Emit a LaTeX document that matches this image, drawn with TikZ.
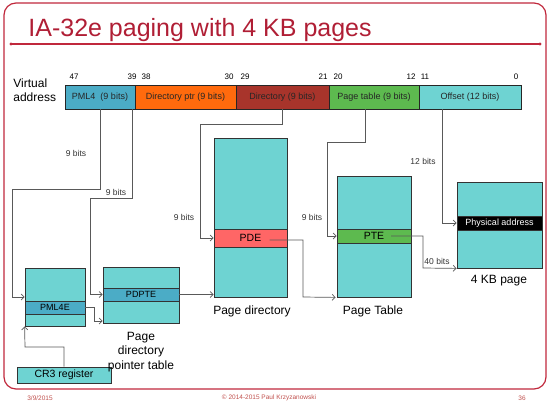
\documentclass[tikz,border=0pt]{standalone}
\usepackage{fontspec}
\setmainfont{Liberation Sans}
\usepackage{xcolor}
\definecolor{slidered}{HTML}{C0283C}
\definecolor{titlered}{HTML}{B01E35}
\definecolor{tblcyan}{HTML}{6ED3D2}
\definecolor{pmlblue}{HTML}{4BACC6}
\definecolor{ptrorange}{HTML}{FF6A0D}
\definecolor{dirred}{HTML}{A8342B}
\definecolor{ptgreen}{HTML}{5DBA4F}
\definecolor{pdepink}{HTML}{FF6666}
\definecolor{footred}{HTML}{C0504D}
\usetikzlibrary{arrows.meta}

\begin{document}
\begin{tikzpicture}[x=1pt,y=-1pt,>={Straight Barb[length=3pt,width=6pt]},line width=0.8pt]
              \tikzstyle{seg}=[draw=black!85,inner sep=0pt,minimum height=24pt,text=black!85,font=\fontsize{9}{10}\selectfont]
              \tikzstyle{tbl}=[draw=black!80,fill=tblcyan,inner sep=0pt]
              \tikzstyle{ent}=[draw=black!80,inner sep=0pt]
              \tikzstyle{lnk}=[->,draw=black!65,line width=0.7pt]
              \tikzstyle{bits}=[inner sep=0pt,text=black!80,font=\fontsize{8.5}{9}\selectfont]
              \tikzstyle{num}=[inner sep=0pt,font=\fontsize{8}{9}\selectfont]
              \tikzstyle{capt}=[inner sep=0pt,align=center,font=\fontsize{12}{14.5}\selectfont]
              \tikzstyle{foot}=[inner sep=0pt,text=footred,font=\fontsize{6.5}{7}\selectfont]

              \useasboundingbox (0,0) rectangle (548,405);
              \draw[slidered,line width=1.2pt,rounded corners=12pt] (4,3) rectangle (546,389);
              \draw[slidered,line width=1.2pt] (11,44) -- (540,44);
              \fill[slidered] (11,44) circle (1.7pt) (540,44) circle (1.7pt);
              \node[anchor=base west,inner sep=0pt,text=titlered,font=\fontsize{25}{28}\selectfont] (title) at (28,36) {IA-32e paging with 4 KB pages};

              \node[anchor=west,inner sep=0pt,align=left,font=\fontsize{12}{14.5}\selectfont] (va) at (13,90) {Virtual\\address};
              \node[seg,fill=pmlblue,minimum width=70pt]   (vpml4)   at (100,97)   {PML4 \ (9 bits)};
              \node[seg,fill=ptrorange,minimum width=101pt] (vdirptr) at (185.5,97) {Directory ptr (9 bits)};
              \node[seg,fill=dirred,minimum width=93pt]    (vdir)    at (282.5,97) {Directory (9 bits)};
              \node[seg,fill=ptgreen,minimum width=90pt]   (vtable)  at (374,97)   {Page table (9 bits)};
              \node[seg,fill=tblcyan,minimum width=102pt]  (voffset) at (470,97)   {Offset (12 bits)};

              \node[num] (b47) at (74,77)  {47};
              \node[num] (b39) at (132,77) {39};
              \node[num] (b38) at (146,77) {38};
              \node[num] (b30) at (229,77) {30};
              \node[num] (b29) at (245,77) {29};
              \node[num] (b21) at (323,77) {21};
              \node[num] (b20) at (338,77) {20};
              \node[num] (b12) at (411,77) {12};
              \node[num] (b11) at (425,77) {11};
              \node[num] (b0)  at (516,77) {0};

              \node[tbl,minimum width=60pt,minimum height=58pt]  (pml4t) at (55,297)    {};
              \node[ent,fill=pmlblue,minimum width=60pt,minimum height=13pt,font=\fontsize{9}{10}\selectfont] (pml4e) at (55,307.5) {PML4E};
              \node[tbl,minimum width=76pt,minimum height=56pt]  (pdpt)  at (141,295)   {};
              \node[ent,fill=pmlblue,minimum width=76pt,minimum height=13pt,font=\fontsize{9}{10}\selectfont] (pdpte) at (141,294.5) {PDPTE};
              \node[tbl,minimum width=73pt,minimum height=159pt] (pdir)  at (250.5,217.5) {};
              \node[ent,fill=pdepink,minimum width=73pt,minimum height=18pt,font=\fontsize{10.5}{11}\selectfont] (pde) at (250.5,238) {PDE};
              \node[tbl,minimum width=74pt,minimum height=121pt] (ptbl)  at (374,236.5) {};
              \node[ent,fill=ptgreen,minimum width=74pt,minimum height=14pt,font=\fontsize{10.5}{11}\selectfont] (pte) at (374,236) {PTE};
              \node[tbl,minimum width=85pt,minimum height=86pt]  (page)  at (499.5,225) {};
              \node[ent,fill=black,text=white,minimum width=85pt,minimum height=14pt,font=\fontsize{9}{10}\selectfont] (phys) at (499.5,223) {Physical address};
              \node[tbl,minimum width=94pt,minimum height=16pt,font=\fontsize{10.5}{11}\selectfont] (cr3) at (64,375) {CR3 register};

              \node[capt] (cpdpt) at (141,352) {Page\\directory\\pointer table};
              \node[capt] (cpdir) at (252,311) {Page directory};
              \node[capt] (cptbl) at (373,311) {Page Table};
              \node[capt] (cpage) at (499,281) {4 KB page};

              \draw[lnk] (vpml4.south) |- (12,189) |- (pml4t.west);
              \draw[lnk] ([xshift=-2pt]vdirptr.south west) |- (90,198) |- (pdpte.west);
              \draw[lnk] (vdir.south) |- (200,124) |- (pde.west);
              \draw[lnk] ([xshift=-9pt]vtable.south) |- (327,142) |- (pte.west);
              \draw[lnk] ([xshift=-28pt]voffset.south) |- (phys.west);
              \draw[lnk] ([xshift=17pt]pte.center) -| (423,268) -- (page.south west);
              \draw[lnk] ([xshift=19pt,yshift=-2pt]pde.center) -| (303,297) -- ([xshift=-1pt]ptbl.south west);
              \draw[lnk] (pdpte.east) -- (pdpte.east -| pdir.west);
              \draw[lnk] (pml4e.east) -| (94,321) -- (pdpt.west |- 94,321);
              \draw[lnk] (cr3.north) |- (25,347) -- (pml4t.south west);

              \node[bits] (l1) at (76,153)  {9 bits};
              \node[bits] (l2) at (116,192) {9 bits};
              \node[bits] (l3) at (184,217) {9 bits};
              \node[bits] (l4) at (312,217) {9 bits};
              \node[bits] (l5) at (423,161) {12 bits};
              \node[bits] (l6) at (437,261) {40 bits};

              \node[foot] (fdate) at (40,398)  {3/9/2015};
              \node[foot] (fcopy) at (269,398) {\textcopyright\ 2014-2015 Paul Krzyzanowski};
              \node[foot] (fpage) at (522,398) {36};
       \end{tikzpicture}
\end{document}
